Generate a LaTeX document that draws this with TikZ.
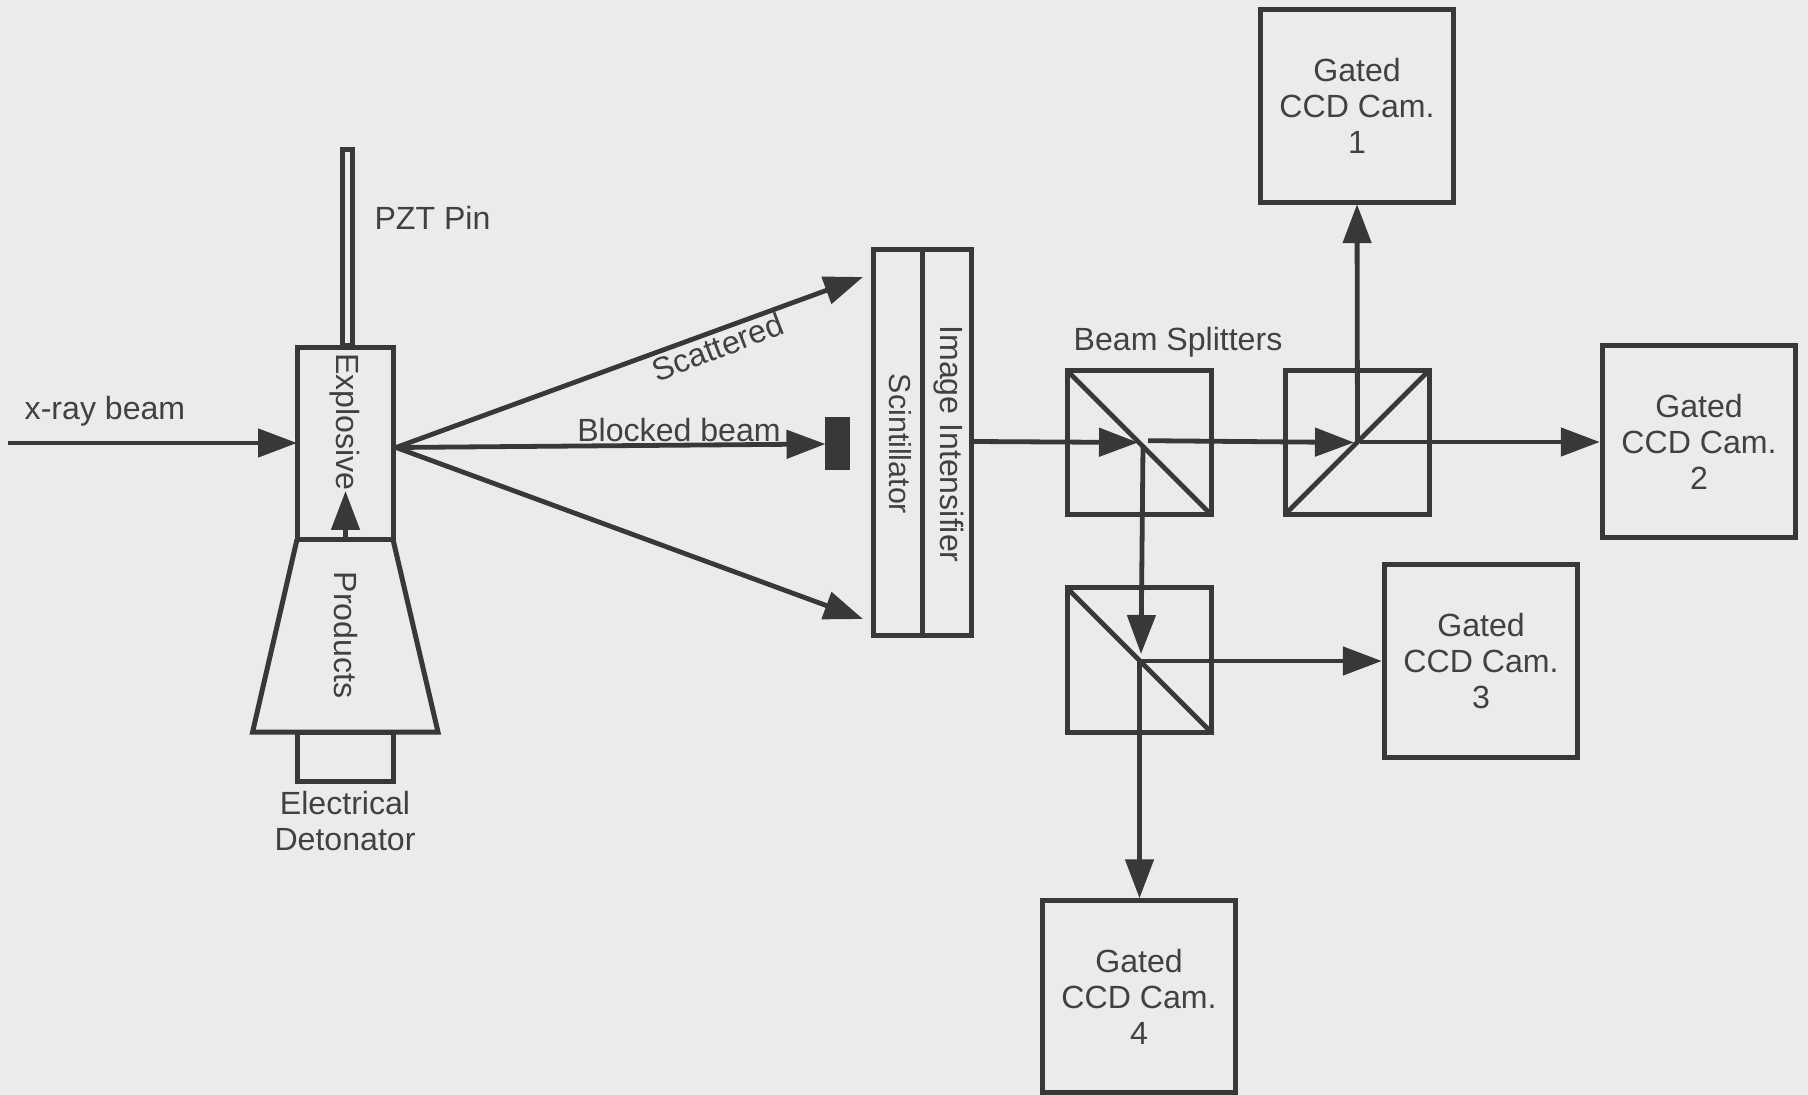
\documentclass[tikz,border=0pt]{standalone}
\usepackage{fontspec}
\setmainfont{Liberation Sans}
\usetikzlibrary{arrows.meta}
\definecolor{ink}{HTML}{3A3738}
\definecolor{inktext}{HTML}{434041}
\definecolor{bg}{HTML}{EBEBEB}
\tikzset{
  px/.style={x=0.5pt,y=-0.5pt},
  boxshape/.style={draw=ink,line width=2.5pt,inner sep=0pt,outer sep=0pt,rectangle},
  cam/.style={boxshape,minimum width=96.2pt,minimum height=96.2pt,align=center,text=inktext,font=\fontsize{16.05}{18}\selectfont},
  splitter/.style={boxshape,minimum width=72pt,minimum height=72pt},
  lab/.style={text=inktext,inner sep=0pt,outer sep=0pt,align=center,font=\fontsize{16.05}{18}\selectfont},
  wire/.style={draw=ink,line width=2.4pt},
  ray/.style={wire,-{Triangle[length=19.5pt,width=14pt]}},
}
\begin{document}
\begin{tikzpicture}[px]
\useasboundingbox (0,0) rectangle (1808,1095);
\fill[bg] (0,0) rectangle (1808,1095);
% source assembly
\node[boxshape,minimum width=48pt,minimum height=96pt] (expl) at (345,443.5) {};
\node[boxshape,minimum width=48pt,minimum height=24.5pt] (det) at (345,757) {};
\node[boxshape,minimum width=5pt,minimum height=98pt] (pin) at (347.5,247.5) {};
\draw[wire,line width=2.5pt,line join=miter] (expl.south west) -- (252.6,732) -- (438,732) -- (expl.south east);
\node[lab,rotate=-90] (texpl) at (345,422) {Explosive};
\node[lab,rotate=-90] (tprod) at (346,635) {Products};
\node[lab,anchor=west] (tpin) at (374.5,217.5) {PZT Pin};
\node[lab] (tdet) at (345,821) {Electrical\\Detonator};
\node[lab] (txray) at (105,411) {x-ray beam};
% detector
\node[boxshape,minimum width=24.5pt,minimum height=193pt] (scin) at (898,442.5) {};
\node[boxshape,minimum width=24.5pt,minimum height=193pt] (inte) at (947,442.5) {};
\node[lab,rotate=-90,font=\fontsize{15.2}{18}\selectfont] (tscin) at (900,444) {Scintillator};
\node[lab,rotate=-90] (tinte) at (948.5,444) {Image Intensifier};
\node[fill=ink,minimum width=12.5pt,minimum height=26.5pt,inner sep=0pt,outer sep=0pt] (block) at (837.5,443.5) {};
% splitters
\node[splitter] (bsa) at (1139,442.5) {};
\node[splitter] (bsb) at (1357,442.5) {};
\node[splitter] (bsc) at (1139,660) {};
\draw[wire] (bsa.north west) -- (bsa.south east);
\draw[wire] (bsb.south west) -- (bsb.north east);
\draw[wire] (bsc.north west) -- (bsc.south east);
\node[lab] (tbs) at (1178,342) {Beam Splitters};
% cameras
\node[cam] (camA) at (1357,106) {Gated\\CCD Cam.\\1};
\node[cam] (camB) at (1699,441.5) {Gated\\CCD Cam.\\2};
\node[cam] (camC) at (1481,661) {Gated\\CCD Cam.\\3};
\node[cam] (camD) at (1139,996.5) {Gated\\CCD Cam.\\4};
% beam end points
\coordinate (xstart) at (8,443);
\coordinate (fan) at (396,447.5);
\coordinate (fanup) at (863,277);
\coordinate (fanlow) at (863,619);
\coordinate (blockin) at (825.5,444);
\coordinate (outa) at (973,441.5);
\coordinate (centa) at (1138,442.5);
\coordinate (passa) at (1148,440.7);
\coordinate (centb) at (1354,442.5);
\coordinate (passb) at (1360,442);
\coordinate (upb) at (1357.5,442);
\coordinate (downa) at (1143,445);
\coordinate (centc) at (1141,654);
\coordinate (rightc) at (1140,661);
\coordinate (downc) at (1139.5,660);
% beams
\draw[ray] (xstart) -- (expl.west |- xstart);
\draw[ray] (345.5,540) -- (345.5,491);
\draw[ray] (fan) -- (fanup);
\draw[ray] (fan) -- (blockin);
\draw[ray] (fan) -- (fanlow);
\draw[ray] (outa) -- (centa);
\draw[ray] (passa) -- (centb);
\draw[ray,shorten >=1.5pt] (passb) -- (camB.west |- passb);
\draw[ray,shorten >=1pt] (upb) -- (camA.south);
\draw[ray] (downa) -- (centc);
\draw[ray,shorten >=1.5pt] (rightc) -- (camC.west |- rightc);
\draw[ray,shorten >=1pt] (downc) -- (camD.north -| downc);
% beam labels
\node[lab,rotate=21] (tscat) at (718,347) {Scattered};
\node[lab] (tblock) at (679,430) {Blocked beam};
\end{tikzpicture}
\end{document}
